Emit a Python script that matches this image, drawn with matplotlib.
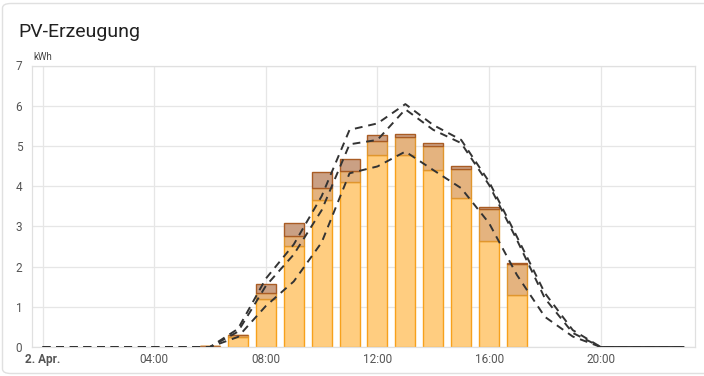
import matplotlib
matplotlib.use("Agg")
import matplotlib.pyplot as plt
from matplotlib.patches import FancyBboxPatch
import numpy as np

plt.rcParams['font.family'] = ['Roboto', 'DejaVu Sans']

title = "PV-Erzeugung"
unit = "kWh"
hours = list(range(24))
xtick_pos = [0, 4, 8, 12, 16, 20]
xtick_labels = ["2. Apr.", "04:00", "08:00", "12:00", "16:00", "20:00"]

bar_hours = [6, 7, 8, 9, 10, 11, 12, 13, 14, 15, 16, 17]
solar_bottom = [0.02, 0.25, 1.20, 2.50, 3.66, 4.10, 4.77, 4.77, 4.40, 3.70, 2.64, 1.29]
solar_middle = [0.00, 0.04, 0.14, 0.26, 0.30, 0.28, 0.35, 0.45, 0.60, 0.73, 0.80, 0.77]
solar_top = [0.00, 0.02, 0.23, 0.32, 0.38, 0.30, 0.14, 0.07, 0.07, 0.06, 0.04, 0.02]

forecast_a = [0, 0, 0, 0, 0, 0, 0, 0.45, 1.70, 2.55, 3.75, 5.40, 5.56, 6.04, 5.52, 5.15, 4.11, 2.74, 1.34, 0.42, 0, 0, 0, 0]
forecast_b = [0, 0, 0, 0, 0, 0, 0, 0.38, 1.52, 2.30, 3.40, 5.04, 5.15, 5.91, 5.40, 5.07, 4.03, 2.66, 1.21, 0.35, 0, 0, 0, 0]
forecast_c = [0, 0, 0, 0, 0, 0, 0, 0.25, 1.02, 1.63, 2.60, 4.32, 4.49, 4.86, 4.40, 3.95, 3.08, 1.79, 0.75, 0.26, 0, 0, 0, 0]

W, H = 704, 376
fig = plt.figure(figsize=(W / 100, H / 100), dpi=100)

# card border (extends past the right edge, as in the screenshot)
card = FancyBboxPatch((2.5 / W, 2.5 / H), (W + 20) / W, (H - 6) / H,
                      boxstyle="round,pad=0,rounding_size=0.012",
                      transform=fig.transFigure, facecolor="white",
                      edgecolor="#e0e0e0", linewidth=1.0, zorder=-10)
fig.patches.append(card)

ax = fig.add_axes([32 / W, 1 - 347 / H, (695 - 32) / W, (347 - 65.5) / H])
ax.set_facecolor("none")

bw = 0.72
b = np.array(solar_bottom)
m = np.array(solar_middle)
t = np.array(solar_top)
ax.bar(bar_hours, b, width=bw, color="#ffcd80", edgecolor="#f7a11c", linewidth=1.0, zorder=2)
ax.bar(bar_hours, m, width=bw, bottom=b, color="#e4b37f", edgecolor="#e0962e", linewidth=1.0, zorder=2)
ax.bar(bar_hours, t, width=bw, bottom=b + m, color="#caa084", edgecolor="#a95c24", linewidth=1.0, zorder=2)

for ser in (forecast_a, forecast_b, forecast_c):
    ax.plot(hours, ser, color="#333333", linewidth=1.4, dashes=(4, 3), zorder=4)

ax.set_xlim(-0.38, 23.38)
ax.set_ylim(0, 7)
ax.set_yticks(range(0, 8))
ax.set_xticks(xtick_pos)
ax.set_xticklabels(xtick_labels)
for lbl in ax.get_xticklabels():
    if lbl.get_text() == "2. Apr.":
        lbl.set_fontweight("bold")
        lbl.set_color("#333333")
ax.tick_params(axis="both", length=0, labelsize=8.5, colors="#555555")
ax.tick_params(axis="y", pad=7)
ax.tick_params(axis="x", pad=4)
ax.grid(True, color="#e6e6e6", linewidth=0.9, zorder=0)
ax.set_axisbelow(True)
for s in ax.spines.values():
    s.set_color("#e0e0e0")
    s.set_linewidth(0.9)

fig.text(18 / W, 1 - 32 / H, title, fontsize=14, color="#212121", va="center", ha="left")
fig.text(33 / W, 1 - 57 / H, unit, fontsize=7, color="#444444", va="center", ha="left")

fig.savefig("out.png", dpi=100)
